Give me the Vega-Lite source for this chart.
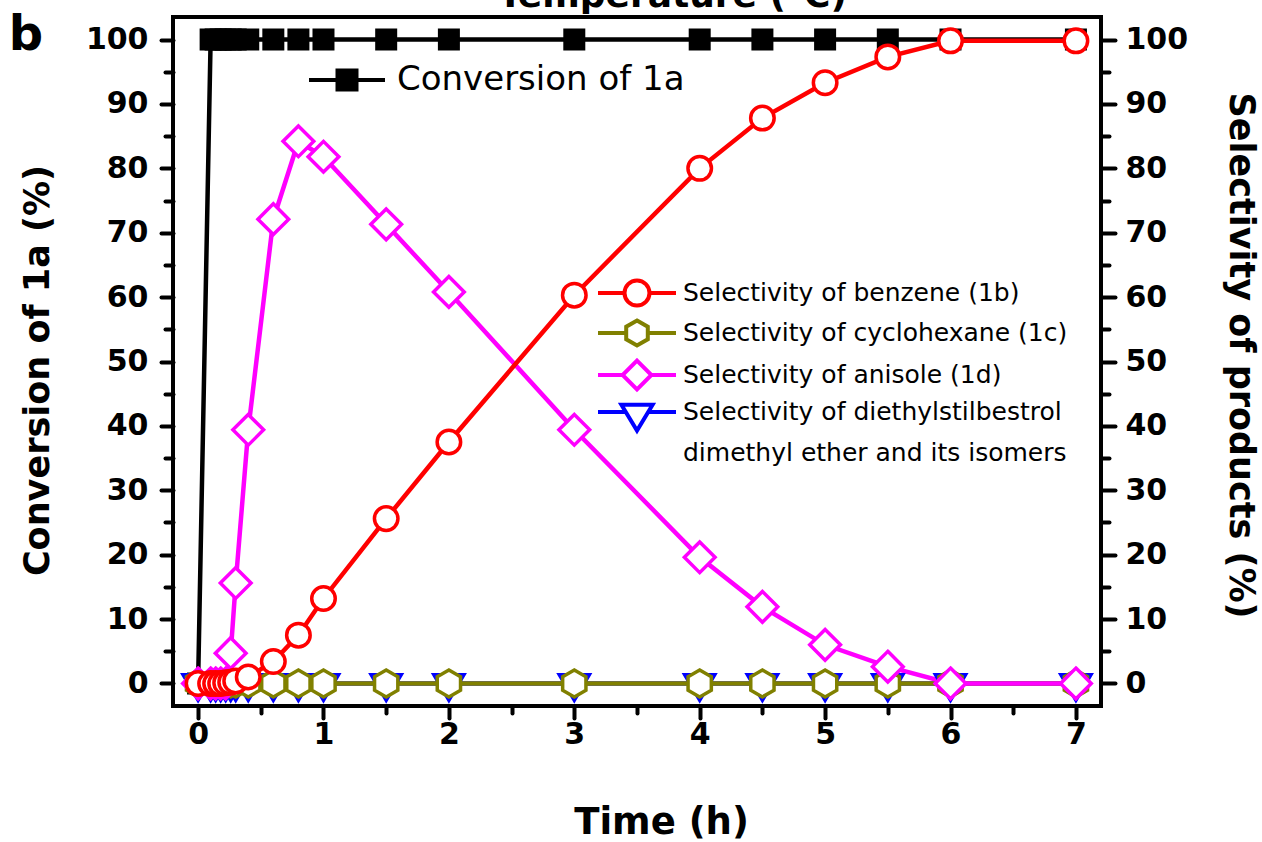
{
  "$schema": "https://vega.github.io/schema/vega-lite/v6.json",
  "width": 928,
  "height": 689,
  "autosize": {"type": "none"},
  "padding": {"left": 173, "top": 17, "right": 161, "bottom": 136},
  "background": "white",
  "config": {
    "font": "DejaVu Sans",
    "view": {"stroke": "black", "strokeWidth": 4},
    "style": {"guide-label": {"lineHeight": 41}},
    "axis": {
      "grid": false, "domain": false, "tickColor": "black", "tickWidth": 4, "tickCap": "round",
      "labelColor": "black", "titleColor": "black", "labelFont": "DejaVu Sans", "labelFontWeight": "bold",
      "labelFontSize": 30, "titleFont": "DejaVu Sans", "titleFontWeight": "bold", "titleFontSize": 35,
      "labelFlush": false, "labelOverlap": false
    }
  },
  "title": {
    "text": "b", "orient": "left", "anchor": "end", "frame": "group", "angle": 0, "align": "left",
    "baseline": "alphabetic", "fontSize": 48, "fontWeight": "bold", "font": "DejaVu Sans", "color": "black",
    "offset": 7, "dy": 33, "dx": 30
  },
  "data": {
    "values": [
      {"t": 0, "v": 0, "s": "Conversion of 1a"},
      {"t": 0.1, "v": 100, "s": "Conversion of 1a"},
      {"t": 0.14, "v": 100, "s": "Conversion of 1a"},
      {"t": 0.18, "v": 100, "s": "Conversion of 1a"},
      {"t": 0.22, "v": 100, "s": "Conversion of 1a"},
      {"t": 0.26, "v": 100, "s": "Conversion of 1a"},
      {"t": 0.3, "v": 100, "s": "Conversion of 1a"},
      {"t": 0.4, "v": 100, "s": "Conversion of 1a"},
      {"t": 0.6, "v": 100, "s": "Conversion of 1a"},
      {"t": 0.8, "v": 100, "s": "Conversion of 1a"},
      {"t": 1, "v": 100, "s": "Conversion of 1a"},
      {"t": 1.5, "v": 100, "s": "Conversion of 1a"},
      {"t": 2, "v": 100, "s": "Conversion of 1a"},
      {"t": 3, "v": 100, "s": "Conversion of 1a"},
      {"t": 4, "v": 100, "s": "Conversion of 1a"},
      {"t": 4.5, "v": 100, "s": "Conversion of 1a"},
      {"t": 5, "v": 100, "s": "Conversion of 1a"},
      {"t": 5.5, "v": 100, "s": "Conversion of 1a"},
      {"t": 6, "v": 100, "s": "Conversion of 1a"},
      {"t": 7, "v": 100, "s": "Conversion of 1a"},

      {"t": 0, "v": 0, "s": "Selectivity of diethylstilbestrol dimethyl ether and its isomers"},
      {"t": 0.1, "v": 0, "s": "Selectivity of diethylstilbestrol dimethyl ether and its isomers"},
      {"t": 0.14, "v": 0, "s": "Selectivity of diethylstilbestrol dimethyl ether and its isomers"},
      {"t": 0.18, "v": 0, "s": "Selectivity of diethylstilbestrol dimethyl ether and its isomers"},
      {"t": 0.22, "v": 0, "s": "Selectivity of diethylstilbestrol dimethyl ether and its isomers"},
      {"t": 0.26, "v": 0, "s": "Selectivity of diethylstilbestrol dimethyl ether and its isomers"},
      {"t": 0.3, "v": 0, "s": "Selectivity of diethylstilbestrol dimethyl ether and its isomers"},
      {"t": 0.4, "v": 0, "s": "Selectivity of diethylstilbestrol dimethyl ether and its isomers"},
      {"t": 0.6, "v": 0, "s": "Selectivity of diethylstilbestrol dimethyl ether and its isomers"},
      {"t": 0.8, "v": 0, "s": "Selectivity of diethylstilbestrol dimethyl ether and its isomers"},
      {"t": 1, "v": 0, "s": "Selectivity of diethylstilbestrol dimethyl ether and its isomers"},
      {"t": 1.5, "v": 0, "s": "Selectivity of diethylstilbestrol dimethyl ether and its isomers"},
      {"t": 2, "v": 0, "s": "Selectivity of diethylstilbestrol dimethyl ether and its isomers"},
      {"t": 3, "v": 0, "s": "Selectivity of diethylstilbestrol dimethyl ether and its isomers"},
      {"t": 4, "v": 0, "s": "Selectivity of diethylstilbestrol dimethyl ether and its isomers"},
      {"t": 4.5, "v": 0, "s": "Selectivity of diethylstilbestrol dimethyl ether and its isomers"},
      {"t": 5, "v": 0, "s": "Selectivity of diethylstilbestrol dimethyl ether and its isomers"},
      {"t": 5.5, "v": 0, "s": "Selectivity of diethylstilbestrol dimethyl ether and its isomers"},
      {"t": 6, "v": 0, "s": "Selectivity of diethylstilbestrol dimethyl ether and its isomers"},
      {"t": 7, "v": 0, "s": "Selectivity of diethylstilbestrol dimethyl ether and its isomers"},

      {"t": 0, "v": 0, "s": "Selectivity of cyclohexane (1c)"},
      {"t": 0.1, "v": 0, "s": "Selectivity of cyclohexane (1c)"},
      {"t": 0.14, "v": 0, "s": "Selectivity of cyclohexane (1c)"},
      {"t": 0.18, "v": 0, "s": "Selectivity of cyclohexane (1c)"},
      {"t": 0.22, "v": 0, "s": "Selectivity of cyclohexane (1c)"},
      {"t": 0.26, "v": 0, "s": "Selectivity of cyclohexane (1c)"},
      {"t": 0.3, "v": 0, "s": "Selectivity of cyclohexane (1c)"},
      {"t": 0.4, "v": 0, "s": "Selectivity of cyclohexane (1c)"},
      {"t": 0.6, "v": 0, "s": "Selectivity of cyclohexane (1c)"},
      {"t": 0.8, "v": 0, "s": "Selectivity of cyclohexane (1c)"},
      {"t": 1, "v": 0, "s": "Selectivity of cyclohexane (1c)"},
      {"t": 1.5, "v": 0, "s": "Selectivity of cyclohexane (1c)"},
      {"t": 2, "v": 0, "s": "Selectivity of cyclohexane (1c)"},
      {"t": 3, "v": 0, "s": "Selectivity of cyclohexane (1c)"},
      {"t": 4, "v": 0, "s": "Selectivity of cyclohexane (1c)"},
      {"t": 4.5, "v": 0, "s": "Selectivity of cyclohexane (1c)"},
      {"t": 5, "v": 0, "s": "Selectivity of cyclohexane (1c)"},
      {"t": 5.5, "v": 0, "s": "Selectivity of cyclohexane (1c)"},
      {"t": 6, "v": 0, "s": "Selectivity of cyclohexane (1c)"},
      {"t": 7, "v": 0, "s": "Selectivity of cyclohexane (1c)"},

      {"t": 0, "v": 0, "s": "Selectivity of anisole (1d)"},
      {"t": 0.1, "v": 0, "s": "Selectivity of anisole (1d)"},
      {"t": 0.14, "v": 0, "s": "Selectivity of anisole (1d)"},
      {"t": 0.18, "v": 0, "s": "Selectivity of anisole (1d)"},
      {"t": 0.22, "v": 0, "s": "Selectivity of anisole (1d)"},
      {"t": 0.26, "v": 4.7, "s": "Selectivity of anisole (1d)"},
      {"t": 0.3, "v": 15.6, "s": "Selectivity of anisole (1d)"},
      {"t": 0.4, "v": 39.4, "s": "Selectivity of anisole (1d)"},
      {"t": 0.6, "v": 72.1, "s": "Selectivity of anisole (1d)"},
      {"t": 0.8, "v": 84.2, "s": "Selectivity of anisole (1d)"},
      {"t": 1, "v": 81.8, "s": "Selectivity of anisole (1d)"},
      {"t": 1.5, "v": 71.3, "s": "Selectivity of anisole (1d)"},
      {"t": 2, "v": 60.8, "s": "Selectivity of anisole (1d)"},
      {"t": 3, "v": 39.4, "s": "Selectivity of anisole (1d)"},
      {"t": 4, "v": 19.6, "s": "Selectivity of anisole (1d)"},
      {"t": 4.5, "v": 11.9, "s": "Selectivity of anisole (1d)"},
      {"t": 5, "v": 6.0, "s": "Selectivity of anisole (1d)"},
      {"t": 5.5, "v": 2.6, "s": "Selectivity of anisole (1d)"},
      {"t": 6, "v": 0, "s": "Selectivity of anisole (1d)"},
      {"t": 7, "v": 0, "s": "Selectivity of anisole (1d)"},

      {"t": 0, "v": 0, "s": "Selectivity of benzene (1b)"},
      {"t": 0.1, "v": 0, "s": "Selectivity of benzene (1b)"},
      {"t": 0.14, "v": 0, "s": "Selectivity of benzene (1b)"},
      {"t": 0.18, "v": 0, "s": "Selectivity of benzene (1b)"},
      {"t": 0.22, "v": 0.1, "s": "Selectivity of benzene (1b)"},
      {"t": 0.26, "v": 0.2, "s": "Selectivity of benzene (1b)"},
      {"t": 0.3, "v": 0.4, "s": "Selectivity of benzene (1b)"},
      {"t": 0.4, "v": 1.0, "s": "Selectivity of benzene (1b)"},
      {"t": 0.6, "v": 3.4, "s": "Selectivity of benzene (1b)"},
      {"t": 0.8, "v": 7.5, "s": "Selectivity of benzene (1b)"},
      {"t": 1, "v": 13.2, "s": "Selectivity of benzene (1b)"},
      {"t": 1.5, "v": 25.6, "s": "Selectivity of benzene (1b)"},
      {"t": 2, "v": 37.5, "s": "Selectivity of benzene (1b)"},
      {"t": 3, "v": 60.3, "s": "Selectivity of benzene (1b)"},
      {"t": 4, "v": 80.0, "s": "Selectivity of benzene (1b)"},
      {"t": 4.5, "v": 87.8, "s": "Selectivity of benzene (1b)"},
      {"t": 5, "v": 93.3, "s": "Selectivity of benzene (1b)"},
      {"t": 5.5, "v": 97.3, "s": "Selectivity of benzene (1b)"},
      {"t": 6, "v": 99.8, "s": "Selectivity of benzene (1b)"},
      {"t": 7, "v": 99.8, "s": "Selectivity of benzene (1b)"}
    ]
  },
  "layer": [
    {
      "transform": [{"filter": "datum.s === 'Conversion of 1a'"}],
      "mark": {"type": "line", "color": "black", "strokeWidth": 4.5},
      "encoding": {
        "x": {
          "field": "t", "type": "quantitative",
          "scale": {"domain": [-0.2, 7.2], "nice": false, "zero": false},
          "axis": {
            "orient": "bottom", "values": [0, 1, 2, 3, 4, 5, 6, 7], "tickSize": 12, "labelPadding": 1,
            "title": "Time (h)", "titleFontSize": 37, "titleX": 488, "titleY": 127,
            "titleBaseline": "alphabetic", "titleAlign": "center"
          }
        },
        "y": {
          "field": "v", "type": "quantitative",
          "scale": {"domain": [-3.5, 103.5], "nice": false, "zero": false},
          "axis": {
            "orient": "left", "values": [0, 10, 20, 30, 40, 50, 60, 70, 80, 90, 100], "tickSize": 12,
            "labelPadding": 13, "title": "Conversion of 1a (%)", "titleX": -136, "titleY": 353,
            "titleAlign": "center", "titleBaseline": "middle", "titleAngle": -90
          }
        }
      }
    },
    {
      "transform": [{"filter": "datum.s === 'Conversion of 1a'"}],
      "mark": {"type": "point", "shape": "square", "filled": true, "size": 324, "opacity": 1, "stroke": "black", "strokeWidth": 4},
      "encoding": {
        "x": {
          "field": "t", "type": "quantitative",
          "scale": {"domain": [-0.2, 7.2], "nice": false, "zero": false},
          "axis": {"orient": "bottom", "values": [0.5, 1.5, 2.5, 3.5, 4.5, 5.5, 6.5], "tickSize": 7, "labels": false, "title": null}
        },
        "y": {
          "field": "v", "type": "quantitative",
          "scale": {"domain": [-3.5, 103.5], "nice": false, "zero": false},
          "axis": {"orient": "left", "values": [5, 15, 25, 35, 45, 55, 65, 75, 85, 95], "tickSize": 8, "labels": false, "title": null}
        },
        "fill": {
          "field": "s", "type": "nominal",
          "scale": {"domain": ["Conversion of 1a"], "range": ["black"]},
          "legend": {
            "orient": "none", "legendX": 157, "legendY": 46, "title": null, "padding": 0,
            "symbolType": "M-3.04,0H-0.76M0.76,0H3.04M-0.76,-0.76H0.76V0.76H-0.76Z",
            "symbolSize": 625, "symbolStrokeWidth": 4, "symbolStrokeColor": "black",
            "labelFontSize": 34, "labelFont": "DejaVu Sans",
            "labelColor": "black", "labelOffset": 33, "labelLimit": 800
          }
        }
      }
    },
    {
      "transform": [{"filter": "datum.s !== 'Conversion of 1a'"}],
      "mark": {"type": "line", "strokeWidth": 4.5},
      "encoding": {
        "x": {
          "field": "t", "type": "quantitative",
          "scale": {"domain": [-0.2, 7.2], "nice": false, "zero": false},
          "axis": {
            "orient": "top", "ticks": false, "labels": false, "title": "Temperature (°C)", "titleFontSize": 36,
            "titleX": 499, "titleY": -11, "titleBaseline": "alphabetic", "titleAlign": "center"
          }
        },
        "y": {
          "field": "v", "type": "quantitative",
          "scale": {"domain": [-3.5, 103.5], "nice": false, "zero": false},
          "axis": {
            "orient": "right", "values": [0, 10, 20, 30, 40, 50, 60, 70, 80, 90, 100], "tickSize": 14,
            "labelPadding": 10, "title": "Selectivity of products (%)", "titleX": 139, "titleY": 338,
            "titleAngle": 90, "titleBaseline": "middle", "titleAlign": "center"
          }
        },
        "color": {
          "field": "s", "type": "nominal",
          "scale": {
            "domain": ["Selectivity of diethylstilbestrol dimethyl ether and its isomers", "Selectivity of cyclohexane (1c)", "Selectivity of anisole (1d)", "Selectivity of benzene (1b)"],
            "range": ["#0000ff", "#808000", "#ff00ff", "#ff0000"]
          },
          "legend": null
        }
      }
    },
    {
      "transform": [{"filter": "datum.s !== 'Conversion of 1a'"}],
      "mark": {"type": "point", "filled": false, "fill": "white", "size": 576, "strokeWidth": 3.5, "opacity": 1},
      "encoding": {
        "x": {
          "field": "t", "type": "quantitative",
          "scale": {"domain": [-0.2, 7.2], "nice": false, "zero": false},
          "axis": null
        },
        "y": {
          "field": "v", "type": "quantitative",
          "scale": {"domain": [-3.5, 103.5], "nice": false, "zero": false},
          "axis": {"orient": "right", "values": [5, 15, 25, 35, 45, 55, 65, 75, 85, 95], "tickSize": 8, "labels": false, "title": null}
        },
        "stroke": {
          "field": "s", "type": "nominal",
          "scale": {
            "domain": ["Selectivity of diethylstilbestrol dimethyl ether and its isomers", "Selectivity of cyclohexane (1c)", "Selectivity of anisole (1d)", "Selectivity of benzene (1b)"],
            "range": ["#0000ff", "#808000", "#ff00ff", "#ff0000"]
          },
          "legend": null
        },
        "shape": {
          "field": "s", "type": "nominal",
          "scale": {
            "domain": ["Selectivity of diethylstilbestrol dimethyl ether and its isomers", "Selectivity of anisole (1d)", "Selectivity of cyclohexane (1c)", "Selectivity of benzene (1b)"],
            "range": [
              "M-1.25,-0.72L1.25,-0.72L0,1.4Z",
              "M0,-1.28L1.28,0L0,1.28L-1.28,0Z",
              "M0,-1.12L0.97,-0.56L0.97,0.56L0,1.12L-0.97,0.56L-0.97,-0.56Z",
              "M-0.98,0A0.98,0.98 0 1,1 0.98,0A0.98,0.98 0 1,1 -0.98,0Z"
            ]
          },
          "legend": null
        }
      }
    },
    {
      "transform": [{"filter": "datum.s !== 'Conversion of 1a'"}],
      "mark": {"type": "point", "filled": false, "fill": "white", "size": 576, "strokeWidth": 4, "opacity": 0},
      "encoding": {
        "x": {
          "field": "t", "type": "quantitative",
          "scale": {"domain": [-0.2, 7.2], "nice": false, "zero": false},
          "axis": null
        },
        "y": {
          "field": "v", "type": "quantitative",
          "scale": {"domain": [-3.5, 103.5], "nice": false, "zero": false},
          "axis": null
        },
        "stroke": {
          "field": "s", "type": "nominal",
          "scale": {
            "domain": ["Selectivity of benzene (1b)", "Selectivity of cyclohexane (1c)", "Selectivity of anisole (1d)", "Selectivity of diethylstilbestrol dimethyl ether and its isomers"],
            "range": ["#ff0000", "#808000", "#ff00ff", "#0000ff"]
          },
          "legend": {
            "orient": "none", "legendX": 450, "legendY": 262, "title": null, "padding": 0,
            "symbolSize": 576, "symbolStrokeWidth": 4, "symbolOpacity": 1, "symbolFillColor": "white",
            "labelFontSize": 25, "labelFont": "DejaVu Sans",
            "labelColor": "black", "labelOffset": 32, "rowPadding": -2, "labelLimit": 800,
            "labelExpr": "datum.value === 'Selectivity of diethylstilbestrol dimethyl ether and its isomers' ? ['Selectivity of diethylstilbestrol', 'dimethyl ether and its isomers'] : datum.label"
          }
        },
        "shape": {
          "field": "s", "type": "nominal",
          "scale": {
            "domain": ["Selectivity of benzene (1b)", "Selectivity of cyclohexane (1c)", "Selectivity of anisole (1d)", "Selectivity of diethylstilbestrol dimethyl ether and its isomers"],
            "range": [
              "M-3.25,0H-1.04M1.04,0H3.25M-1.04,0A1.04,1.04 0 1,1 1.04,0A1.04,1.04 0 1,1 -1.04,0Z",
              "M-3.25,0H-0.9M0.9,0H3.25M0,-1.04L0.9,-0.52L0.9,0.52L0,1.04L-0.9,0.52L-0.9,-0.52Z",
              "M-3.25,0H-1.2M1.2,0H3.25M0,-1.2L1.2,0L0,1.2L-1.2,0Z",
              "M-3.25,0H-0.94M0.94,0H3.25M-1.3,-0.6L1.3,-0.6L0,1.55Z"
            ]
          },
          "legend": {
            "orient": "none", "legendX": 450, "legendY": 262, "title": null, "padding": 0,
            "symbolSize": 576, "symbolStrokeWidth": 4, "symbolOpacity": 1, "symbolFillColor": "white",
            "labelFontSize": 25, "labelFont": "DejaVu Sans",
            "labelColor": "black", "labelOffset": 32, "rowPadding": -2, "labelLimit": 800,
            "labelExpr": "datum.value === 'Selectivity of diethylstilbestrol dimethyl ether and its isomers' ? ['Selectivity of diethylstilbestrol', 'dimethyl ether and its isomers'] : datum.label"
          }
        }
      }
    }
  ],
  "resolve": {
    "axis": {"x": "independent", "y": "independent"},
    "scale": {"shape": "independent", "stroke": "independent"}
  }
}
